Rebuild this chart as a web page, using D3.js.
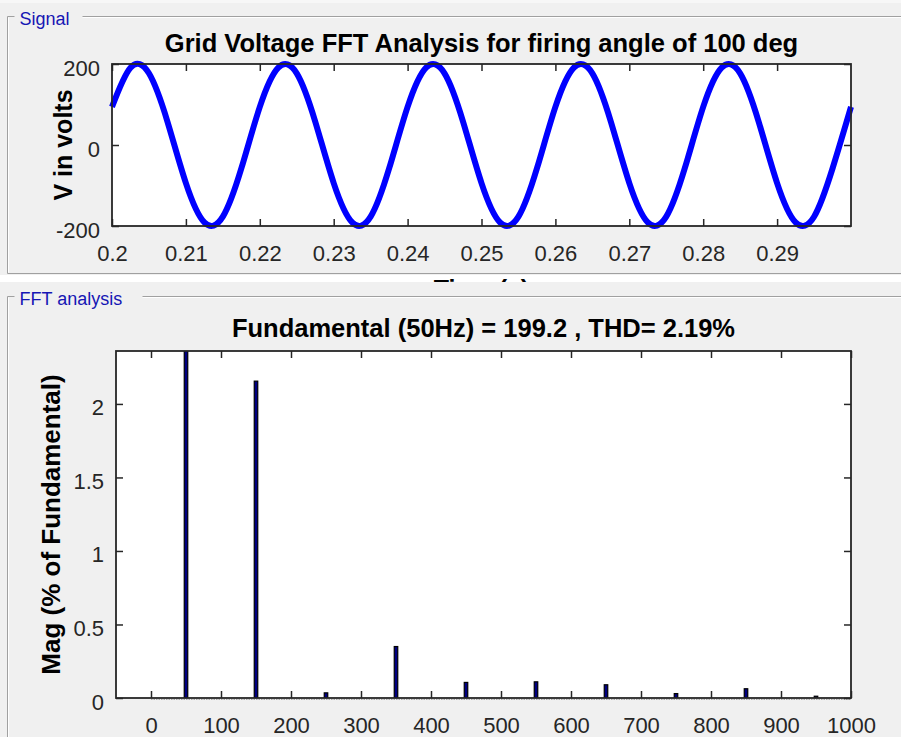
<!DOCTYPE html>
<html>
<head>
<meta charset="utf-8">
<script src="https://cdn.jsdelivr.net/npm/d3@7"></script>
<style>
  html, body { margin: 0; padding: 0; background: #f0f0f0; }
  svg { display: block; }
  text { font-family: "Liberation Sans", Arial, Helvetica, sans-serif; }
</style>
</head>
<body>
<svg id="chart" width="901" height="737"></svg>
<script>
// ---------------- data ----------------
const signalTitle = "Grid Voltage FFT Analysis for firing angle of 100 deg";
const signalYLabel = "V in volts";
const signalXLabel = "Time (s)";
const signalXTicks = [0.2, 0.21, 0.22, 0.23, 0.24, 0.25, 0.26, 0.27, 0.28, 0.29];
const signalYTicks = [-200, 0, 200];
// samples (every 2.5 ms)
const timeSec = [0.2000, 0.2025, 0.2050, 0.2075, 0.2100, 0.2125, 0.2150, 0.2175,
                 0.2200, 0.2225, 0.2250, 0.2275, 0.2300, 0.2325, 0.2350, 0.2375,
                 0.2400, 0.2425, 0.2450, 0.2475, 0.2500, 0.2525, 0.2550, 0.2575,
                 0.2600, 0.2625, 0.2650, 0.2675, 0.2700, 0.2725, 0.2750, 0.2775,
                 0.2800, 0.2825, 0.2850, 0.2875, 0.2900, 0.2925, 0.2950, 0.2975,
                 0.3000];
const voltage = [94, 191, 177, 58, -94, -191, -177, -58,
                 94, 191, 177, 58, -94, -191, -177, -58,
                 94, 191, 177, 58, -94, -191, -177, -58,
                 94, 191, 177, 58, -94, -191, -177, -58,
                 94, 191, 177, 58, -94, -191, -177, -58,
                 94];

const fftTitle = "Fundamental (50Hz) = 199.2 , THD= 2.19%";
const fftYLabel = "Mag (% of Fundamental)";
const fftXTicks = [0, 100, 200, 300, 400, 500, 600, 700, 800, 900, 1000];
const fftYTicks = [0, 0.5, 1, 1.5, 2];
const harmonicFreq = [50, 150, 250, 350, 450, 550, 650, 750, 850, 950];
const harmonicMag  = [100, 2.155, 0.035, 0.35, 0.106, 0.11, 0.09, 0.03, 0.063, 0.012];

// ---------------- drawing ----------------
const svg = d3.select("#chart");
const axisColor = "#262626";
const panelBlue = "#1616b4";

// light strip at very top
svg.append("rect").attr("x", 0).attr("y", 0).attr("width", 901).attr("height", 3).attr("fill", "#f7f7f7");

function panel(x, y, w, h, title, titleW) {
  const g = svg.append("g");
  const path = `M${x + 7},${y} L${x},${y} L${x},${y + h} L${x + w},${y + h}`;
  g.append("path").attr("d", path).attr("fill", "none").attr("stroke", "#a0a0a0").attr("stroke-width", 1);
  g.append("path").attr("d", `M${x + 1},${y + 1} L${x + 1},${y + h - 1}`).attr("fill", "none").attr("stroke", "#ffffff").attr("stroke-width", 1);
  g.append("line").attr("x1", x + titleW).attr("x2", 905).attr("y1", y).attr("y2", y).attr("stroke", "#a0a0a0");
  g.append("line").attr("x1", x + titleW).attr("x2", 905).attr("y1", y + 1).attr("y2", y + 1).attr("stroke", "#ffffff");
  g.append("text").attr("x", x + 12).attr("y", y + 8).attr("font-size", 18).attr("fill", panelBlue).text(title);
}

panel(7.5, 16.5, 900, 257, "Signal", 75);
panel(7.5, 296.5, 900, 460, "FFT analysis", 135);

// white strip between panels with clipped xlabel of the top axes
svg.append("rect").attr("x", 0).attr("y", 275).attr("width", 901).attr("height", 7).attr("fill", "#ffffff");
svg.append("clipPath").attr("id", "stripClip").append("rect").attr("x", 0).attr("y", 275).attr("width", 901).attr("height", 7);

function drawAxes(opts) {
  const { left, right, top, bottom, xDomain, yDomain, xTicks, yTicks, xFmt, yFmt } = opts;
  const x = d3.scaleLinear().domain(xDomain).range([left, right]);
  const y = d3.scaleLinear().domain(yDomain).range([bottom, top]);
  const g = svg.append("g");
  g.append("rect").attr("x", left).attr("y", top).attr("width", right - left).attr("height", bottom - top).attr("fill", "#ffffff");
  return { x, y, g, finish: () => {
    const tickLen = 7;
    const axB = d3.axisBottom(x).tickValues(xTicks).tickSize(-tickLen).tickPadding(19).tickFormat(xFmt);
    const axT = d3.axisTop(x).tickValues(xTicks).tickSize(-tickLen).tickFormat("");
    const axL = d3.axisLeft(y).tickValues(yTicks).tickSize(-tickLen).tickPadding(12).tickFormat(yFmt);
    const axR = d3.axisRight(y).tickValues(yTicks).tickSize(-tickLen).tickFormat("");
    const ab = svg.append("g").attr("transform", `translate(0,${bottom})`).call(axB);
    const at = svg.append("g").attr("transform", `translate(0,${top})`).call(axT);
    const al = svg.append("g").attr("transform", `translate(${left},0)`).call(axL);
    const ar = svg.append("g").attr("transform", `translate(${right},0)`).call(axR);
    [ab, at, al, ar].forEach(a => {
      a.select(".domain").remove();
      a.selectAll(".tick line").attr("stroke", axisColor).attr("stroke-width", 1.5);
      a.selectAll(".tick text").attr("fill", axisColor).attr("font-size", 22);
    });
    al.selectAll(".tick text").attr("dy", "0.5em");
    svg.append("rect").attr("x", left).attr("y", top).attr("width", right - left).attr("height", bottom - top)
      .attr("fill", "none").attr("stroke", axisColor).attr("stroke-width", 1.8);
  }};
}

// ---- top: signal ----
const A = drawAxes({
  left: 112, right: 851, top: 64, bottom: 226,
  xDomain: [0.2, 0.3], yDomain: [-200, 200],
  xTicks: signalXTicks, yTicks: signalYTicks,
  xFmt: d => d3.format("")(+d.toFixed(2)), yFmt: d => d
});
const sigData = timeSec.map((t, i) => ({ t, v: voltage[i] }));
A.g.append("path").datum(sigData)
  .attr("fill", "none").attr("stroke", "#0000ff").attr("stroke-width", 6).attr("stroke-linejoin", "round")
  .attr("d", d3.line().x(d => A.x(d.t)).y(d => A.y(d.v)).curve(d3.curveNatural));
A.finish();
svg.append("text").attr("x", 481.5).attr("y", 52).attr("text-anchor", "middle")
  .attr("font-size", 25.5).attr("font-weight", "bold").attr("fill", "#000").text(signalTitle);
svg.append("text").attr("transform", "translate(72,145) rotate(-90)").attr("text-anchor", "middle")
  .attr("font-size", 25).attr("font-weight", "bold").attr("fill", "#000").text(signalYLabel);
svg.append("g").attr("clip-path", "url(#stripClip)").append("text")
  .attr("x", 481.5).attr("y", 297.5).attr("text-anchor", "middle")
  .attr("font-size", 25).attr("font-weight", "bold").attr("fill", "#000").text(signalXLabel);

// ---- bottom: FFT ----
const B = drawAxes({
  left: 116, right: 851, top: 351, bottom: 698,
  xDomain: [-50, 1000], yDomain: [0, 2.36],
  xTicks: fftXTicks, yTicks: fftYTicks,
  xFmt: d => d, yFmt: d => d
});
svg.append("clipPath").attr("id", "fftClip").append("rect").attr("x", 116).attr("y", 351).attr("width", 735).attr("height", 347);
// tiny zero-level bins along baseline
B.g.append("line").attr("x1", B.x(0)).attr("x2", B.x(1000)).attr("y1", 699.5).attr("y2", 699.5)
  .attr("stroke", "#a8a8a8").attr("stroke-width", 1).attr("stroke-dasharray", "1.5,1");
const bw = 5; // Hz
B.g.append("g").attr("clip-path", "url(#fftClip)").selectAll("rect").data(harmonicFreq).join("rect")
  .attr("x", (d) => B.x(d - bw / 2))
  .attr("width", (d) => B.x(d + bw / 2) - B.x(d - bw / 2))
  .attr("y", (d, i) => B.y(harmonicMag[i]))
  .attr("height", (d, i) => B.y(0) - B.y(harmonicMag[i]))
  .attr("fill", "#000080").attr("stroke", "#000").attr("stroke-width", 1.2);
B.finish();
svg.append("text").attr("x", 483.5).attr("y", 337).attr("text-anchor", "middle")
  .attr("font-size", 25.5).attr("font-weight", "bold").attr("fill", "#000").text(fftTitle);
svg.append("text").attr("transform", "translate(60,524.5) rotate(-90)").attr("text-anchor", "middle")
  .attr("font-size", 26).attr("font-weight", "bold").attr("fill", "#000").text(fftYLabel);
</script>
</body>
</html>
